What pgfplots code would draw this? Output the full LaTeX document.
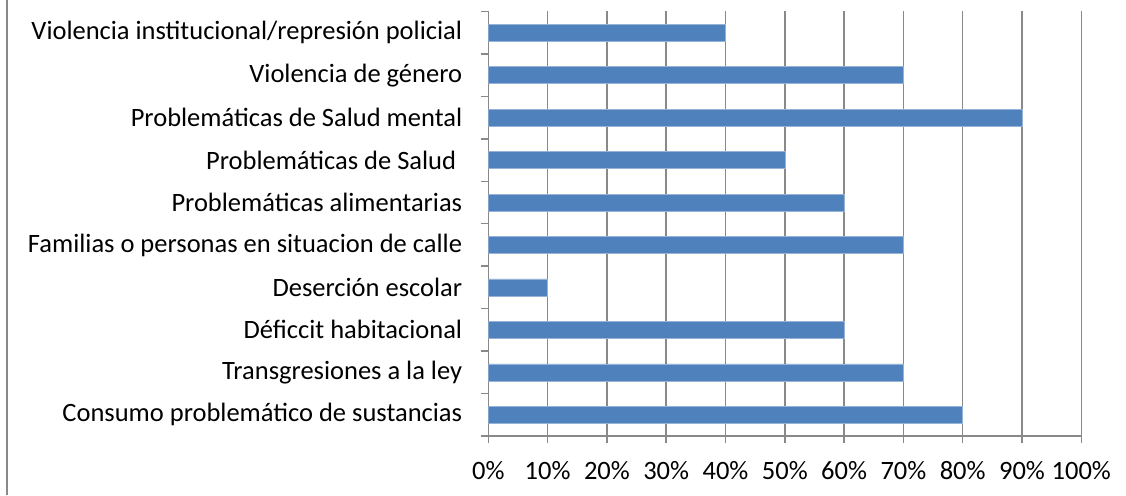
\documentclass[border=0pt]{standalone}
\usepackage{pgfplots}
\pgfplotsset{compat=1.18}
\usepackage{fontspec}
\setmainfont{Carlito}
\definecolor{barblue}{HTML}{4F81BD}
\definecolor{gridgray}{HTML}{898989}
\begin{document}
\fontsize{26.5}{30}\selectfont
\begin{tikzpicture}[x=1pt,y=1pt]
\path[use as bounding box] (0,0) rectangle (1126,495);
\draw[gridgray, line width=1.5pt] (7,0) -- (7,495);
\begin{axis}[
  at={(488.3pt,59pt)}, anchor=south west,
  scale only axis, width=593pt, height=424.5pt,
  xmin=0, xmax=100, ymin=-0.5, ymax=9.5,
  xbar, bar width=17pt,
  axis x line*=bottom, axis y line*=left,
  axis line style={gridgray, line width=1.5pt, -},
  xtick={0,10,...,100},
  xticklabels={0\%,10\%,20\%,30\%,40\%,50\%,60\%,70\%,80\%,90\%,100\%},
  xmajorgrids, grid style={gridgray, line width=1.5pt},
  ytick={-0.5,0.5,...,9.5},
  yticklabels={},
  extra y ticks={0,...,9},
  extra y tick labels={Consumo problemático de sustancias, Transgresiones a la ley, Déficcit habitacional, Deserción escolar, Familias o personas en situacion de calle, Problemáticas alimentarias, {Problemáticas de Salud\kern6pt}, Problemáticas de Salud mental, Violencia de género, Violencia institucional/represión policial},
  extra y tick style={tick style={draw=none}, major tick length=0pt},
  tick style={draw=gridgray, line width=1.5pt},
  tick align=outside, major tick length=7pt,
  xtick pos=bottom, ytick pos=left,
  yticklabel style={font=\fontsize{26.5}{30}\selectfont, inner sep=0pt, xshift=-26pt, anchor=east},
  xticklabel style={font=\fontsize{26.5}{30}\selectfont, inner sep=0pt, yshift=-18pt},
  /pgf/number format/assume math mode=true,
]
\addplot[fill=barblue, draw=barblue!60!white, line width=0.6pt] coordinates {
(80,0) (70,1) (60,2) (10,3) (70,4) (60,5) (50,6) (90,7) (70,8) (40,9)
};
\end{axis}
\end{tikzpicture}
\end{document}
